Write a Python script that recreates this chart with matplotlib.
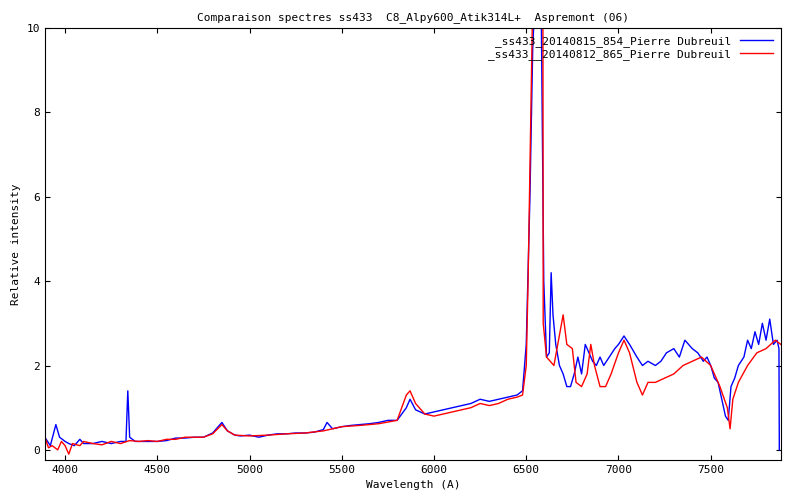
import matplotlib
matplotlib.use("Agg")
import matplotlib.pyplot as plt

plt.rcParams["font.family"] = "DejaVu Sans Mono"
plt.rcParams["font.size"] = 8

# blue spectrum (2014-08-15)
wl_blue = [3890, 3920, 3950, 3970, 4000, 4020, 4050, 4080, 4100, 4150, 4200, 4250, 4300, 4330,
           4340, 4350, 4380, 4400, 4450, 4500, 4550, 4600, 4650, 4700, 4750, 4800, 4850, 4880,
           4920, 4950, 5000, 5050, 5100, 5150, 5200, 5250, 5300, 5350, 5400, 5420, 5450, 5500,
           5550, 5600, 5650, 5700, 5750, 5800, 5850, 5870, 5900, 5950, 6000, 6050, 6100, 6150,
           6200, 6250, 6300, 6350, 6400, 6450, 6480, 6500, 6520, 6535, 6550, 6565, 6580, 6595,
           6610, 6625, 6635, 6645, 6660, 6680, 6700, 6720, 6740, 6760, 6780, 6800, 6820, 6840,
           6860, 6880, 6900, 6920, 6950, 6980, 7000, 7030, 7060, 7100, 7130, 7160, 7200, 7230,
           7260, 7300, 7330, 7360, 7380, 7400, 7430, 7460, 7480, 7500, 7520, 7540, 7560, 7580,
           7595, 7610, 7630, 7650, 7680, 7700, 7720, 7740, 7760, 7780, 7800, 7820, 7840, 7860,
           7870, 7872]
flux_blue = [0.3, 0.1, 0.6, 0.3, 0.2, 0.15, 0.1, 0.25, 0.15, 0.15, 0.2, 0.15, 0.2, 0.2,
             1.4, 0.3, 0.2, 0.2, 0.2, 0.2, 0.22, 0.28, 0.28, 0.3, 0.3, 0.4, 0.65, 0.45,
             0.35, 0.33, 0.35, 0.3, 0.35, 0.38, 0.38, 0.4, 0.4, 0.42, 0.48, 0.65, 0.5, 0.55,
             0.58, 0.6, 0.62, 0.65, 0.7, 0.7, 1.0, 1.2, 0.95, 0.85, 0.9, 0.95, 1.0, 1.05,
             1.1, 1.2, 1.15, 1.2, 1.25, 1.3, 1.4, 2.5, 6.0, 9.5, 11.0, 12.0, 11.0, 4.0,
             2.2, 2.3, 4.2, 3.2, 2.5, 2.0, 1.8, 1.5, 1.5, 1.8, 2.2, 1.8, 2.5, 2.3,
             2.1, 2.0, 2.2, 2.0, 2.2, 2.4, 2.5, 2.7, 2.5, 2.2, 2.0, 2.1, 2.0, 2.1,
             2.3, 2.4, 2.2, 2.6, 2.5, 2.4, 2.3, 2.1, 2.2, 2.0, 1.7, 1.6, 1.2, 0.8,
             0.7, 1.5, 1.7, 2.0, 2.2, 2.6, 2.4, 2.8, 2.5, 3.0, 2.6, 3.1, 2.5, 2.6,
             2.4, 0.0]

# red spectrum (2014-08-12)
wl_red = [3890, 3910, 3930, 3960, 3980, 4000, 4020, 4040, 4080, 4100, 4150, 4200, 4250, 4300,
          4350, 4400, 4450, 4500, 4550, 4600, 4650, 4700, 4750, 4800, 4850, 4880, 4920, 5000,
          5100, 5200, 5300, 5400, 5500, 5600, 5700, 5800, 5850, 5870, 5900, 5950, 6000, 6050,
          6100, 6150, 6200, 6250, 6300, 6350, 6400, 6450, 6480, 6500, 6510, 6525, 6540, 6590,
          6592, 6610, 6650, 6700, 6720, 6750, 6770, 6800, 6830, 6850, 6870, 6900, 6930, 6960,
          7000, 7030, 7060, 7100, 7130, 7160, 7200, 7250, 7300, 7350, 7400, 7450, 7500, 7550,
          7590, 7605, 7620, 7650, 7700, 7750, 7800, 7850, 7880]
flux_red = [0.3, 0.05, 0.1, 0.0, 0.2, 0.1, -0.1, 0.15, 0.1, 0.2, 0.15, 0.12, 0.2, 0.15,
            0.22, 0.2, 0.22, 0.2, 0.25, 0.25, 0.3, 0.3, 0.3, 0.38, 0.6, 0.45, 0.35, 0.33,
            0.35, 0.38, 0.4, 0.45, 0.55, 0.58, 0.62, 0.7, 1.3, 1.4, 1.1, 0.85, 0.8, 0.85,
            0.9, 0.95, 1.0, 1.1, 1.05, 1.1, 1.2, 1.25, 1.3, 2.0, 4.0, 8.0, 12.0, 12.0,
            3.0, 2.2, 2.0, 3.2, 2.5, 2.4, 1.6, 1.5, 1.8, 2.5, 2.0, 1.5, 1.5, 1.8,
            2.3, 2.6, 2.3, 1.6, 1.3, 1.6, 1.6, 1.7, 1.8, 2.0, 2.1, 2.2, 2.0, 1.5,
            1.0, 0.5, 1.2, 1.6, 2.0, 2.3, 2.4, 2.6, 2.5]

labels = ["_ss433_20140815_854_Pierre Dubreuil",
          "_ss433__20140812_865_Pierre Dubreuil"]

fig = plt.figure(figsize=(8, 5), dpi=100)
ax = fig.add_axes([0.056, 0.08, 0.92, 0.864])
l1, = ax.plot(wl_blue, flux_blue, color="#0000ff", lw=1)
l2, = ax.plot(wl_red, flux_red, color="#ff0000", lw=1)
ax.set_xlim(3890, 7880)
ax.set_ylim(-0.24, 10)
ax.set_xticks([4000, 4500, 5000, 5500, 6000, 6500, 7000, 7500])
ax.set_yticks([0, 2, 4, 6, 8, 10])
ax.tick_params(direction="in", top=True, right=True)
ax.set_xlabel("Wavelength (A)")
ax.set_ylabel("Relative intensity")
ax.set_title("Comparaison spectres ss433  C8_Alpy600_Atik314L+  Aspremont (06)", fontsize=8)
ax.legend([l1, l2], labels, loc="upper right", frameon=False, markerfirst=False,
          handlelength=3, borderaxespad=0.3, labelspacing=0.2)
fig.savefig("out.png", dpi=100)
